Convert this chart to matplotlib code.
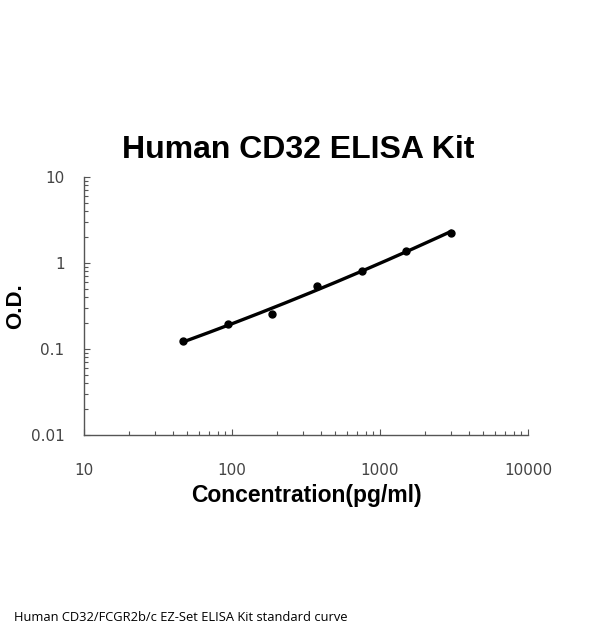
import numpy as np
import matplotlib
matplotlib.use("Agg")
import matplotlib.pyplot as plt
from matplotlib.ticker import LogLocator, FixedLocator, FixedFormatter, NullFormatter

conc = [46.88, 93.75, 187.5, 375, 750, 1500, 3000]
od = [0.124, 0.195, 0.255, 0.54, 0.81, 1.39, 2.25]
xticks = [10, 100, 1000, 10000]
xlabels = ["10", "100", "1000", "10000"]
yticks = [0.01, 0.1, 1, 10]
ylabels = ["0.01", "0.1", "1", "10"]

fig = plt.figure(figsize=(6, 6.37), dpi=100)
ax = fig.add_axes([0.14, 0.317, 0.74, 0.405])
ax.set_xscale("log")
ax.set_yscale("log")
ax.set_xlim(10, 10000)
ax.set_ylim(0.01, 10)

# smooth fitted curve in log-log space
lx = np.log10(conc)
ly = np.log10(od)
coef = np.polyfit(lx, ly, 2)
xs = np.linspace(lx[0], lx[-1], 200)
ax.plot(10 ** xs, 10 ** np.polyval(coef, xs), color="black", lw=2.4, zorder=2)
ax.plot(conc, od, "o", color="black", ms=5, zorder=3)

for s in ["top", "right"]:
    ax.spines[s].set_visible(False)
for s in ["left", "bottom"]:
    ax.spines[s].set_color("#555555")
    ax.spines[s].set_linewidth(1.0)

ax.xaxis.set_major_locator(FixedLocator(xticks))
ax.xaxis.set_major_formatter(FixedFormatter(xlabels))
ax.yaxis.set_major_locator(FixedLocator(yticks))
ax.yaxis.set_major_formatter(FixedFormatter(ylabels))
ax.xaxis.set_minor_locator(LogLocator(base=10, subs=np.arange(2, 10)))
ax.yaxis.set_minor_locator(LogLocator(base=10, subs=np.arange(2, 10)))
ax.xaxis.set_minor_formatter(NullFormatter())
ax.yaxis.set_minor_formatter(NullFormatter())
ax.tick_params(which="both", direction="in", color="#555555", width=0.8)
ax.tick_params(which="major", length=4)
ax.tick_params(which="minor", length=3)
ax.tick_params(axis="x", which="major", pad=20, labelsize=11, labelcolor="#444444")
ax.tick_params(axis="y", which="major", pad=14, labelsize=11, labelcolor="#444444")

ax.set_xlabel("Concentration(pg/ml)", fontsize=16.5, fontweight="bold", family="Liberation Sans")
ax.xaxis.set_label_coords(0.5, -0.19)
ax.set_ylabel("O.D.", fontsize=16, fontweight="bold", family="Liberation Sans")
ax.yaxis.set_label_coords(-0.13, 0.5)
fig.text(0.497, 0.765, "Human CD32 ELISA Kit", ha="center", va="center",
         fontsize=23, fontweight="bold", family="Liberation Sans")
fig.text(0.023, 0.03, "Human CD32/FCGR2b/c EZ-Set ELISA Kit standard curve",
         ha="left", va="center", fontsize=9.3, family="Open Sans")

fig.savefig("out.png", dpi=100)
